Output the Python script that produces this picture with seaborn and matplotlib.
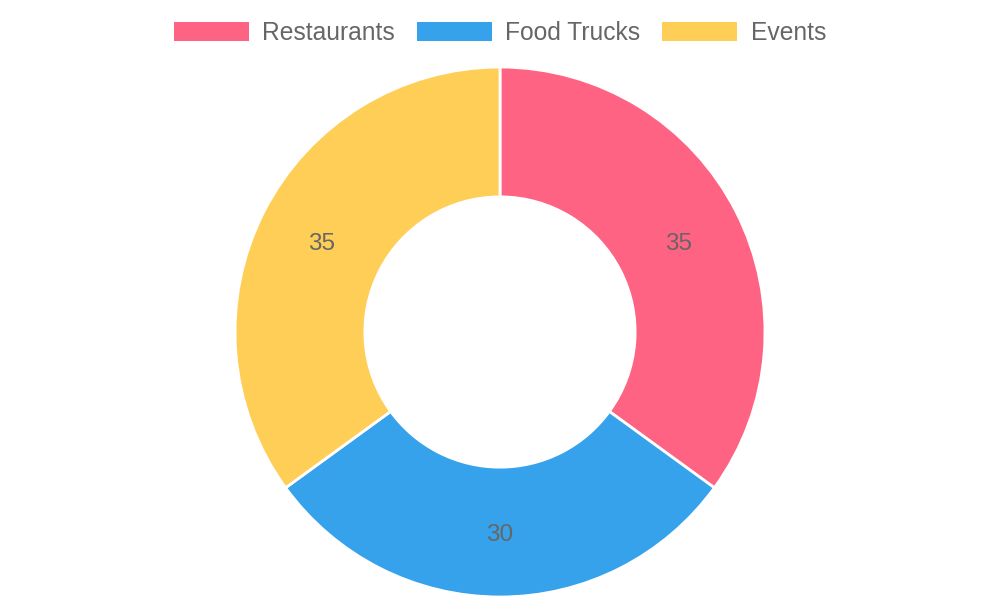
import matplotlib
matplotlib.use("Agg")
import matplotlib.pyplot as plt
import matplotlib.patches as mpatches
import seaborn as sns

categories = ["Restaurants", "Food Trucks", "Events"]
values = [35, 30, 35]
colors = ["#FF6384", "#36A2EB", "#FFCE56"]

sns.set_theme(style="white")
plt.rcParams["font.family"] = ["Liberation Sans", "DejaVu Sans"]

palette = sns.color_palette(colors)

fig = plt.figure(figsize=(10, 6), dpi=100)
# donut occupies a square region in pixel space
ax = fig.add_axes([0.235, 0.005, 0.53, 0.8833])

wedges, texts = ax.pie(
    values,
    labels=[str(v) for v in values],
    colors=palette,
    startangle=90,
    counterclock=False,
    radius=1.0,
    labeldistance=0.755,
    wedgeprops=dict(width=0.49, edgecolor="white", linewidth=2),
    textprops=dict(color="#666666", fontsize=17.5, ha="center",
                   va="center_baseline"),
)
ax.set_aspect("equal")
ax.set_xlim(-1.0, 1.0)
ax.set_ylim(-1.0, 1.0)
ax.axis("off")

handles = [mpatches.Patch(facecolor=c, edgecolor="none", label=l)
           for c, l in zip(palette, categories)]
leg = fig.legend(
    handles=handles,
    loc="center",
    bbox_to_anchor=(0.5, 1 - 33 / 600),
    ncol=3,
    frameon=False,
    fontsize=17.7,
    handlelength=3.04,
    handleheight=0.8,
    handletextpad=0.56,
    columnspacing=0.88,
)
for t in leg.get_texts():
    t.set_color("#666666")

fig.savefig("out.png", dpi=100)
